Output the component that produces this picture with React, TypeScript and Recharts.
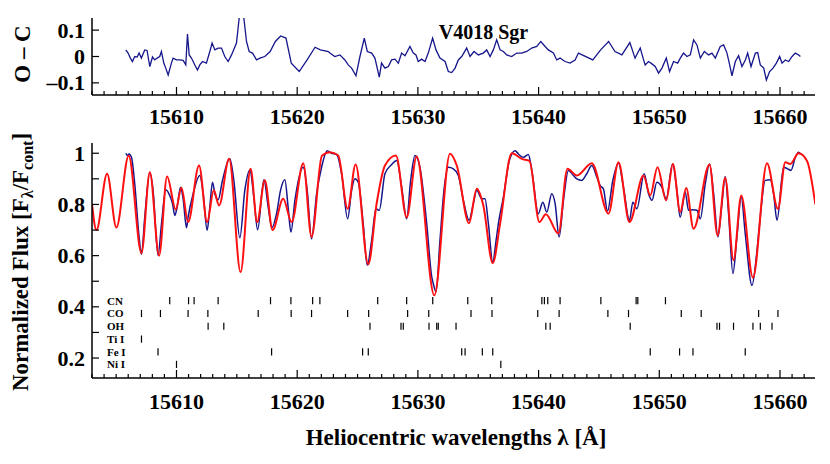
import React from 'react';
import { LineChart, ComposedChart, Line, XAxis, YAxis, ReferenceLine } from 'recharts';

const FONT = "'Liberation Serif', 'Times New Roman', serif";

// ---------- axis ticks ----------
const xMajorTicks = [15610, 15620, 15630, 15640, 15650, 15660];
const xMinorTicks = [
  15603, 15604, 15605, 15606, 15607, 15608, 15609, 15610, 15611, 15612, 15613, 15614, 15615, 15616, 15617,
  15618, 15619, 15620, 15621, 15622, 15623, 15624, 15625, 15626, 15627, 15628, 15629, 15630, 15631, 15632,
  15633, 15634, 15635, 15636, 15637, 15638, 15639, 15640, 15641, 15642, 15643, 15644, 15645, 15646, 15647,
  15648, 15649, 15650, 15651, 15652, 15653, 15654, 15655, 15656, 15657, 15658, 15659, 15660, 15661, 15662,
];
const ocTicks = [-0.1, 0, 0.1];
const ocTickLabels = ['\u20130.1', '0', '0.1'];
const fluxTicks = [0.2, 0.3, 0.4, 0.5, 0.6, 0.7, 0.8, 0.9, 1];
const fluxLabelTicks = [0.2, 0.4, 0.6, 0.8, 1];
const fluxTickLabels = ['0.2', '0.4', '0.6', '0.8', '1'];

// ---------- O - C residuals ----------
const ocLambda = [
  15605.8, 15605.99, 15606.18, 15606.35, 15606.54, 15606.74, 15606.9, 15607.09, 15607.37, 15607.56,
  15607.79, 15608.01, 15608.2, 15608.39, 15608.61, 15608.75, 15608.95, 15609.11, 15609.31, 15609.58,
  15609.72, 15610.0, 15610.27, 15610.55, 15610.77, 15610.91, 15611.05, 15611.24, 15611.52, 15611.74,
  15611.93, 15612.15, 15612.48, 15612.76, 15612.95, 15613.18, 15613.45, 15613.73, 15614.0, 15614.28,
  15614.56, 15614.97, 15615.25, 15615.52, 15615.8, 15616.02, 15616.3, 15616.63, 15616.91, 15617.32,
  15617.76, 15618.19, 15618.63, 15619.07, 15619.51, 15620.17, 15620.82, 15621.48, 15621.92, 15622.58,
  15622.71, 15623.12, 15623.54, 15623.95, 15624.23, 15624.51, 15624.87, 15625.2, 15625.56, 15625.81,
  15626.17, 15626.44, 15626.8, 15626.99, 15627.27, 15627.55, 15627.82, 15628.1, 15628.38, 15628.65,
  15628.93, 15629.34, 15629.62, 15629.84, 15630.03, 15630.31, 15630.59, 15630.86, 15631.22, 15631.5,
  15631.83, 15632.25, 15632.52, 15632.8, 15633.08, 15633.35, 15633.63, 15634.04, 15634.32, 15634.65,
  15635.01, 15635.42, 15635.7, 15635.98, 15636.25, 15636.53, 15636.81, 15637.08, 15637.36, 15637.77,
  15638.19, 15638.6, 15639.02, 15639.43, 15639.85, 15640.18, 15640.54, 15640.81, 15641.23, 15641.5,
  15641.78, 15642.19, 15642.61, 15643.02, 15643.3, 15643.61, 15644.49, 15645.14, 15645.8, 15646.33,
  15646.9, 15647.56, 15647.99, 15648.42, 15648.7, 15648.83, 15649.11, 15649.39, 15649.66, 15649.94,
  15650.22, 15650.58, 15650.85, 15651.18, 15651.52, 15651.74, 15652.01, 15652.29, 15652.57, 15652.84,
  15653.12, 15653.4, 15653.73, 15654.09, 15654.36, 15654.64, 15655.05, 15655.33, 15655.61, 15655.83,
  15656.02, 15656.3, 15656.57, 15656.85, 15657.13, 15657.32, 15657.6, 15657.96, 15658.15, 15658.37,
  15658.65, 15658.87, 15659.14, 15659.42, 15659.7, 15659.97, 15660.17, 15660.44, 15660.72, 15661.0,
  15661.27, 15661.55, 15661.69,
];
const ocValue = [
  0.025, 0.013, -0.006, -0.019, 0.0, -0.002, 0.013, -0.006, 0.025, 0.023,
  -0.038, -0.002, -0.013, -0.006, 0.0, 0.019, -0.025, -0.044, -0.07, -0.025,
  -0.006, -0.013, -0.013, -0.015, -0.032, 0.085, 0.006, -0.006, -0.032, -0.051,
  -0.032, -0.019, -0.025, 0.019, 0.051, 0.025, 0.032, 0.032, 0.0, -0.019,
  0.006, 0.051, 0.17, 0.17, 0.057, 0.019, 0.013, -0.013, -0.006, 0.0,
  0.019, 0.057, 0.078, 0.07, -0.025, -0.057, -0.013, 0.035, 0.025, 0.019,
  0.013, 0.0, 0.006, -0.013, -0.032, -0.044, -0.073, 0.0, 0.07, 0.019,
  0.013, -0.006, -0.078, -0.025, -0.044, -0.038, -0.013, -0.01, -0.025, 0.013,
  0.003, 0.038, 0.013, 0.006, -0.019, -0.01, -0.019, 0.013, 0.07, 0.025,
  -0.006, -0.019, -0.057, -0.061, -0.044, -0.013, 0.0, 0.032, 0.0, 0.019,
  0.006, 0.013, 0.025, 0.0, 0.025, 0.063, 0.025, 0.019, 0.006, 0.0,
  0.013, 0.013, 0.019, 0.032, 0.038, 0.057, 0.038, 0.025, 0.013, -0.013,
  -0.006, -0.019, -0.025, -0.013, 0.013, 0.006, -0.013, 0.025, 0.057, 0.019,
  0.006, 0.053, -0.006, 0.032, -0.013, -0.032, -0.019, -0.028, -0.038, -0.063,
  -0.044, -0.006, -0.057, -0.019, -0.025, -0.006, 0.013, 0.0, 0.006, 0.063,
  0.044, -0.006, 0.019, 0.006, 0.013, -0.006, 0.038, 0.044, 0.013, -0.032,
  -0.073, -0.019, 0.003, -0.038, -0.013, 0.013, -0.038, 0.013, 0.015, -0.032,
  -0.044, -0.089, -0.057, -0.044, -0.025, 0.0, -0.025, -0.013, -0.019, 0.0,
  0.013, 0.006, 0.0,
];

// ---------- synthetic (model) spectrum ----------
const modelLambda = [
  15603.0, 15603.37, 15604.25, 15605.02, 15606.04, 15607.1, 15607.79, 15608.56, 15609.22, 15609.94,
  15610.41, 15610.96, 15611.87, 15612.54, 15613.09, 15613.53, 15614.36, 15615.31, 15616.14, 15616.68,
  15617.32, 15617.96, 15618.84, 15619.54, 15620.5, 15621.19, 15622.05, 15622.71, 15623.4, 15624.18,
  15624.84, 15625.89, 15626.58, 15627.27, 15628.18, 15629.07, 15629.9, 15631.36, 15632.66, 15633.22,
  15634.24, 15634.88, 15635.42, 15636.2, 15636.81, 15637.78, 15638.61, 15639.24, 15640.07, 15640.6,
  15641.64, 15642.39, 15643.17, 15644.41, 15645.79, 15646.62, 15647.53, 15648.69, 15649.25, 15649.85,
  15650.57, 15651.13, 15651.73, 15652.23, 15652.84, 15654.16, 15654.83, 15655.46, 15656.15, 15656.79,
  15657.76, 15658.92, 15659.83, 15660.44, 15660.85, 15661.54, 15662.24, 15662.93,
];
const modelFlux = [
  0.8, 0.7, 0.92, 0.71, 0.99, 0.61, 0.926, 0.6, 0.909, 0.78,
  0.865, 0.731, 0.952, 0.731, 0.855, 0.796, 0.978, 0.536, 0.939, 0.731,
  0.894, 0.7, 0.822, 0.731, 0.961, 0.673, 0.99, 1.004, 0.991, 0.783,
  0.956, 0.566, 0.803, 0.952, 0.991, 0.75, 0.987, 0.445, 0.998, 0.952,
  0.727, 0.861, 0.796, 0.571, 0.725, 1.0, 0.978, 0.97, 0.731, 0.762,
  0.686, 0.939, 0.913, 0.961, 0.764, 0.965, 0.731, 0.913, 0.835, 0.945,
  0.816, 0.958, 0.77, 0.864, 0.705, 0.956, 0.679, 0.904, 0.582, 0.835,
  0.514, 0.961, 0.783, 0.965, 0.958, 1.0, 0.97, 0.8,
];

// ---------- observed spectrum ----------
const obsLambda = [
  15605.8, 15605.94, 15606.07, 15606.27, 15606.54, 15606.9, 15607.1, 15607.37, 15607.79, 15608.06,
  15608.47, 15608.76, 15609.11, 15609.44, 15609.67, 15609.86, 15610.05, 15610.33, 15610.55, 15610.83,
  15610.96, 15611.38, 15611.93, 15612.21, 15612.54, 15612.76, 15612.98, 15613.18, 15613.45, 15613.81,
  15614.42, 15614.75, 15615.25, 15615.66, 15616.08, 15616.41, 15616.72, 15617.24, 15617.6, 15617.9,
  15618.29, 15618.62, 15618.98, 15619.25, 15619.48, 15619.81, 15620.5, 15620.83, 15621.19, 15621.61,
  15622.02, 15622.49, 15622.85, 15623.27, 15623.68, 15624.18, 15624.51, 15624.78, 15625.06, 15625.47,
  15625.8, 15626.17, 15626.53, 15626.8, 15627.27, 15627.83, 15628.24, 15628.66, 15629.07, 15629.4,
  15629.76, 15630.17, 15630.73, 15631.14, 15631.28, 15631.5, 15631.83, 15632.16, 15632.52, 15632.94,
  15633.35, 15633.77, 15634.24, 15634.59, 15634.88, 15635.29, 15635.56, 15635.84, 15636.2, 15636.48,
  15636.67, 15637.08, 15637.58, 15638.05, 15638.33, 15638.74, 15639.15, 15639.44, 15639.98, 15640.35,
  15640.68, 15641.09, 15641.37, 15641.7, 15642.06, 15642.47, 15642.89, 15643.17, 15643.58, 15643.99,
  15644.41, 15644.83, 15645.1, 15645.37, 15645.71, 15646.15, 15646.62, 15647.03, 15647.53, 15647.81,
  15648.14, 15648.75, 15649.11, 15649.39, 15649.8, 15650.22, 15650.57, 15651.1, 15651.46, 15651.73,
  15652.15, 15652.42, 15652.79, 15653.12, 15653.4, 15653.81, 15654.16, 15654.5, 15654.86, 15655.19,
  15655.46, 15655.74, 15656.1, 15656.43, 15656.79, 15657.12, 15657.68, 15658.04, 15658.31, 15658.78,
  15659.2, 15659.47, 15659.75, 15660.3, 15660.63, 15660.91, 15661.27, 15661.54, 15661.74,
];
const obsFlux = [
  1.0, 0.991, 0.997, 0.984, 0.881, 0.673, 0.605, 0.75, 0.926, 0.855,
  0.601, 0.725, 0.857, 0.835, 0.803, 0.757, 0.789, 0.867, 0.822, 0.709,
  0.75, 0.842, 0.913, 0.842, 0.699, 0.789, 0.887, 0.842, 0.818, 0.894,
  0.978, 0.894, 0.67, 0.855, 0.935, 0.828, 0.701, 0.896, 0.789, 0.709,
  0.764, 0.855, 0.896, 0.789, 0.692, 0.816, 0.945, 0.855, 0.666, 0.842,
  0.945, 1.01, 1.0, 0.995, 0.92, 0.744, 0.855, 0.9, 0.887, 0.725,
  0.562, 0.66, 0.783, 0.777, 0.92, 0.956, 0.972, 0.867, 0.744, 0.894,
  0.991, 0.945, 0.725, 0.519, 0.49, 0.458, 0.66, 0.855, 0.945, 0.939,
  0.913, 0.816, 0.738, 0.803, 0.855, 0.822, 0.822, 0.725, 0.575, 0.66,
  0.725, 0.828, 0.972, 1.01, 0.997, 0.984, 0.995, 0.933, 0.764, 0.809,
  0.77, 0.842, 0.803, 0.673, 0.816, 0.933, 0.913, 0.9, 0.894, 0.92,
  0.952, 0.906, 0.874, 0.861, 0.774, 0.894, 0.961, 0.867, 0.738, 0.809,
  0.783, 0.92, 0.842, 0.816, 0.887, 0.867, 0.822, 0.958, 0.855, 0.75,
  0.848, 0.777, 0.779, 0.777, 0.744, 0.881, 0.958, 0.842, 0.673, 0.803,
  0.909, 0.764, 0.53, 0.673, 0.828, 0.686, 0.484, 0.595, 0.725, 0.894,
  0.896, 0.842, 0.738, 0.945, 0.939, 0.933, 0.984, 1.004, 0.995,
];

// ---------- line identifications ----------
const speciesNames = ['CN', 'CO', 'OH', 'Ti I', 'Fe I', 'Ni I'];
const speciesRows = [0.424, 0.374, 0.324, 0.274, 0.224, 0.175];
const cnLines = [
  15609.44, 15611.0, 15611.46, 15613.45, 15617.79, 15619.48, 15621.28, 15621.88, 15626.67, 15629.07,
  15631.23, 15634.13, 15636.12, 15640.27, 15640.48, 15640.76, 15641.78, 15645.16, 15648.08, 15648.22,
  15650.51,
];
const coLines = [
  15607.1, 15608.67, 15610.96, 15612.6, 15616.77, 15619.5, 15621.19, 15624.18, 15625.92, 15629.15,
  15630.9, 15634.4, 15636.14, 15639.93, 15641.7, 15645.74, 15647.45, 15651.82, 15653.47, 15658.23,
  15659.83,
];
const ohLines = [
  15612.62, 15613.92, 15626.03, 15628.6, 15628.79, 15630.92, 15631.56, 15631.69, 15633.16, 15640.6,
  15640.96, 15647.59, 15654.78, 15654.99, 15656.15, 15657.76, 15658.37, 15659.34,
];
const tiLines = [15607.1];
const feLines = [
  15608.47, 15617.88, 15625.42, 15625.89, 15633.63, 15633.91, 15635.34, 15636.2, 15649.25, 15651.68,
  15652.79, 15657.12,
];
const niLines = [15610.0, 15636.87];
const speciesLines = [cnLines, coLines, ohLines, tiLines, feLines, niLines];

const ocData = ocLambda.map((x, i) => ({ x, v: ocValue[i] }));
const modelData = modelLambda.map((x, i) => ({ x, f: modelFlux[i] }));
const obsData = obsLambda.map((x, i) => ({ x, f: obsFlux[i] }));

const X_DOMAIN: [number, number] = [15603, 15662.9];
const BLUE = '#16168c';
const RED = '#ff1010';
const AXIS = { stroke: '#000', strokeWidth: 1.5 };

const makeXTick = (labelDy: number | null, dir: number) => (props: any) => {
  const { x, y, payload } = props;
  const v = payload.value;
  const major = xMajorTicks.indexOf(v) >= 0;
  const len = major ? 8 : 4;
  return (
    <g>
      <line x1={x} x2={x} y1={y} y2={y - dir * len} stroke="#000" strokeWidth={1.2} />
      {labelDy !== null && major ? (
        <text x={x} y={y + labelDy} textAnchor="middle" fontFamily={FONT} fontWeight="bold" fontSize={22} fill="#000">
          {v}
        </text>
      ) : null}
    </g>
  );
};

const makeYTick = (labels: number[] | null, texts: string[], dir: number) => (props: any) => {
  const { x, y, payload } = props;
  const v = payload.value;
  const idx = labels ? labels.findIndex((t) => Math.abs(t - v) < 1e-6) : -1;
  return (
    <g>
      <line x1={x} x2={x + dir * 7} y1={y} y2={y} stroke="#000" strokeWidth={1.2} />
      {idx >= 0 ? (
        <text x={x - 7} y={y + 7.5} textAnchor="end" fontFamily={FONT} fontWeight="bold" fontSize={22} fill="#000">
          {texts[idx]}
        </text>
      ) : null}
    </g>
  );
};

export default function App() {
  return (
    <div style={{ position: 'absolute', left: 0, top: 0, width: 830, height: 464, background: '#fff' }}>
      <div style={{ position: 'absolute', left: 0, top: 0 }}>
        <LineChart width={830} height={130} data={ocData} margin={{ top: 18, right: 15, bottom: 0, left: 0 }}>
          <XAxis
            xAxisId="b"
            dataKey="x"
            type="number"
            domain={X_DOMAIN}
            allowDataOverflow
            ticks={xMinorTicks}
            interval={0}
            height={35}
            tickSize={0}
            tickMargin={0}
            tickLine={false}
            axisLine={AXIS}
            tick={makeXTick(29, 1)}
          />
          <XAxis
            xAxisId="t"
            orientation="top"
            dataKey="x"
            type="number"
            domain={X_DOMAIN}
            allowDataOverflow
            ticks={xMinorTicks}
            interval={0}
            height={0}
            tickSize={0}
            tickMargin={0}
            tickLine={false}
            axisLine={AXIS}
            tick={makeXTick(null, -1)}
          />
          <YAxis
            yAxisId="l"
            type="number"
            domain={[-0.146, 0.146]}
            allowDataOverflow
            ticks={ocTicks}
            interval={0}
            width={92}
            tickSize={0}
            tickMargin={0}
            tickLine={false}
            axisLine={AXIS}
            tick={makeYTick(ocTicks, ocTickLabels, 1)}
          />
          <YAxis
            yAxisId="r"
            orientation="right"
            type="number"
            domain={[-0.146, 0.146]}
            allowDataOverflow
            ticks={ocTicks}
            interval={0}
            width={0}
            tickSize={0}
            tickMargin={0}
            tickLine={false}
            axisLine={AXIS}
            tick={makeYTick(null, [], -1)}
          />
          <Line
            xAxisId="b"
            yAxisId="l"
            dataKey="v"
            type="linear"
            stroke={BLUE}
            strokeWidth={1.3}
            dot={false}
            isAnimationActive={false}
          />
        </LineChart>
      </div>
      <div style={{ position: 'absolute', left: 0, top: 0 }}>
        <ComposedChart width={830} height={464} margin={{ top: 143, right: 15, bottom: 0, left: 0 }}>
          <XAxis
            xAxisId="b"
            dataKey="x"
            type="number"
            domain={X_DOMAIN}
            allowDataOverflow
            ticks={xMinorTicks}
            interval={0}
            height={86}
            tickSize={0}
            tickMargin={0}
            tickLine={false}
            axisLine={AXIS}
            tick={makeXTick(31, 1)}
          />
          <XAxis
            xAxisId="t"
            orientation="top"
            dataKey="x"
            type="number"
            domain={X_DOMAIN}
            allowDataOverflow
            ticks={xMinorTicks}
            interval={0}
            height={0}
            tickSize={0}
            tickMargin={0}
            tickLine={false}
            axisLine={AXIS}
            tick={makeXTick(null, -1)}
          />
          <YAxis
            yAxisId="l"
            type="number"
            domain={[0.122, 1.04]}
            allowDataOverflow
            ticks={fluxTicks}
            interval={0}
            width={92}
            tickSize={0}
            tickMargin={0}
            tickLine={false}
            axisLine={AXIS}
            tick={makeYTick(fluxLabelTicks, fluxTickLabels, 1)}
          />
          <YAxis
            yAxisId="r"
            orientation="right"
            type="number"
            domain={[0.122, 1.04]}
            allowDataOverflow
            ticks={fluxTicks}
            interval={0}
            width={0}
            tickSize={0}
            tickMargin={0}
            tickLine={false}
            axisLine={AXIS}
            tick={makeYTick(null, [], -1)}
          />
          <Line
            xAxisId="b"
            yAxisId="l"
            data={obsData}
            dataKey="f"
            type="monotone"
            stroke={BLUE}
            strokeWidth={1.5}
            dot={false}
            isAnimationActive={false}
          />
          <Line
            xAxisId="b"
            yAxisId="l"
            data={modelData}
            dataKey="f"
            type="monotone"
            stroke={RED}
            strokeWidth={2}
            dot={false}
            isAnimationActive={false}
          />
          {speciesLines.map((arr, r) =>
            arr.map((lam, i) => (
              <ReferenceLine
                key={`s${r}-${i}`}
                xAxisId="b"
                yAxisId="l"
                segment={[
                  { x: lam, y: speciesRows[r] - 0.014 },
                  { x: lam, y: speciesRows[r] + 0.014 },
                ]}
                stroke="#000"
                strokeWidth={1.2}
                ifOverflow="visible"
              />
            ))
          )}
        </ComposedChart>
      </div>
      <svg
        width={830}
        height={464}
        style={{ position: 'absolute', left: 0, top: 0, pointerEvents: 'none' }}
        fontFamily={FONT}
        fontWeight="bold"
      >
        <text x={483.5} y={39} textAnchor="middle" fontSize={20} fill="#000">
          V4018 Sgr
        </text>
        <text transform="translate(30,54) rotate(-90)" textAnchor="middle" fontSize={23} fill="#000">
          O {'\u2013'} C
        </text>
        <text transform="translate(28,262) rotate(-90)" textAnchor="middle" fontSize={23} fill="#000">
          Normalized Flux [F
          <tspan fontSize={16} dy={5}>λ</tspan>
          <tspan dy={-5}>/F</tspan>
          <tspan fontSize={16} dy={5}>cont</tspan>
          <tspan dy={-5}>]</tspan>
        </text>
        <text x={456} y={445} textAnchor="middle" fontSize={23} fill="#000">
          Heliocentric wavelengths λ [Å]
        </text>
        {speciesNames.map((s, i) => (
          <text key={s} x={107} y={143 + (1.04 - speciesRows[i]) * 256 + 4} fontSize={11} fill="#000">
            {s}
          </text>
        ))}
      </svg>
    </div>
  );
}
